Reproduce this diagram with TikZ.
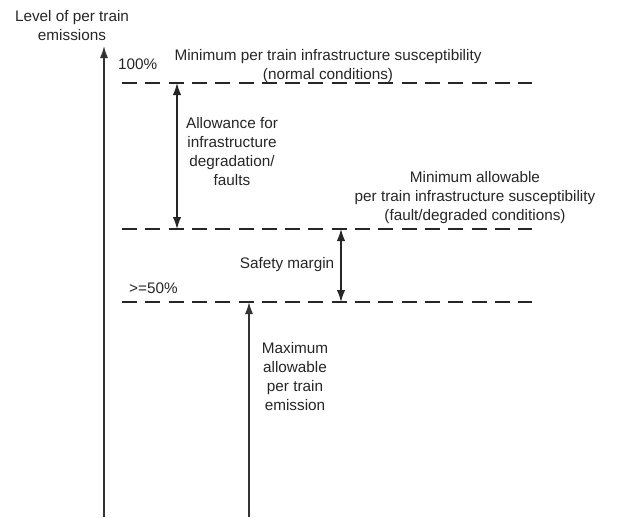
\documentclass[tikz,border=0pt]{standalone}
\usepackage{fontspec}
\setmainfont{Liberation Sans}
\usetikzlibrary{arrows.meta}
\begin{document}
\begin{tikzpicture}[x=1pt,y=-1pt,
  txt/.style={inner sep=0pt,align=center,font=\fontsize{15.3}{19}\selectfont,text=black!85},
  level/.style={line width=1.2pt,dash pattern=on 15pt off 8.3pt,black!85},
  axis/.style={line width=1.5pt,black!80,-{Latex[length=12pt,width=8pt]}},
  dbl/.style={line width=1.3pt,black!85,{Latex[length=12pt,width=8.5pt]}-{Latex[length=12pt,width=8.5pt]}}]
\useasboundingbox (0,0) rectangle (624,517);
% coordinates
\coordinate (l1a) at (122,83);  \coordinate (l1b) at (532,83);
\coordinate (l2a) at (122,229); \coordinate (l2b) at (532,229);
\coordinate (l3a) at (122,302); \coordinate (l3b) at (532,302);
\coordinate (ax0) at (104,517); \coordinate (ax1) at (104,46);
\coordinate (em0) at (249,517); \coordinate (em1) at (249,302);
\coordinate (a1t) at (177,83);  \coordinate (a1b) at (177,229);
\coordinate (a2t) at (341,229); \coordinate (a2b) at (341,302);
% lines
\draw[level] (l1a) -- (l1b);
\draw[level] (l2a) -- (l2b);
\draw[level] (l3a) -- (l3b);
\draw[axis] (ax0) -- (ax1);
\draw[axis] (em0) -- (em1);
\draw[dbl] (a1t) -- (a1b);
\draw[dbl] (a2t) -- (a2b);
% texts
\node[txt] (ylab) at (72,26) {Level of per train\\emissions};
\node[txt,anchor=west] (p100) at (118,64) {100\%};
\node[txt] (top) at (328,66) {Minimum per train infrastructure susceptibility\\(normal conditions)};
\node[txt] (allow) at (232,152) {Allowance for\\infrastructure\\degradation/\\faults};
\node[txt] (minall) at (475,198) {Minimum allowable\\per train infrastructure susceptibility\\(fault/degraded conditions)};
\node[txt] (safe) at (287,265) {Safety margin};
\node[txt,anchor=west] (p50) at (129,288) {>=50\%};
\node[txt] (maxem) at (295,377) {Maximum\\allowable\\per train\\emission};
\end{tikzpicture}
\end{document}
